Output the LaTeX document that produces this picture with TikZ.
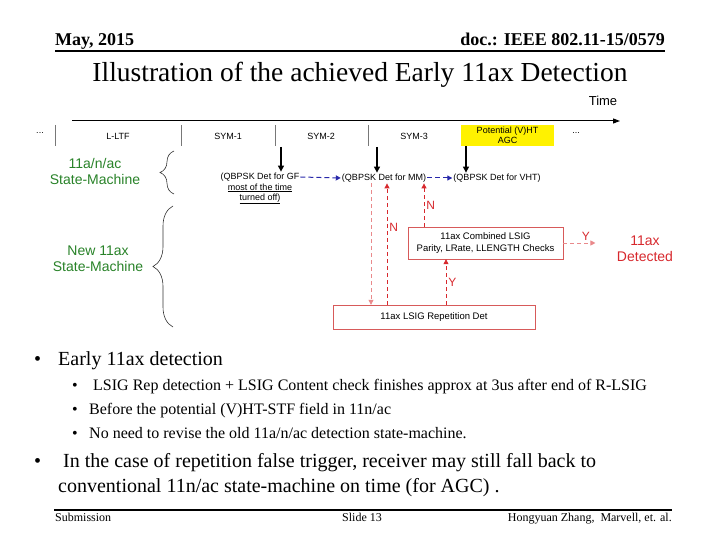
\documentclass[tikz,border=0pt]{standalone}
\usepackage{fontspec}
\setmainfont{Liberation Serif}
\newfontfamily\arialf{Liberation Sans}
\usetikzlibrary{arrows.meta,positioning,decorations.pathreplacing}
\definecolor{smgreen}{RGB}{40,130,40}
\definecolor{detred}{RGB}{215,40,45}
\definecolor{boxred}{RGB}{215,90,90}
\definecolor{dashblue}{RGB}{40,40,170}
\definecolor{celgray}{RGB}{120,120,120}
\begin{document}
\begin{tikzpicture}[x=1pt,y=-1pt,
  hdr/.style={font=\fontsize{18}{20}\selectfont\bfseries,inner sep=0pt},
  cell/.style={font=\arialf\fontsize{9}{10.5}\selectfont,align=center,inner sep=0pt},
  smlabel/.style={font=\arialf\fontsize{14}{16}\selectfont,text=smgreen,align=center},
  detq/.style={font=\arialf\fontsize{9}{11}\selectfont,inner sep=1pt},
  chkbox/.style={draw=boxred,fill=white,font=\arialf\fontsize{9.5}{11.5}\selectfont,align=center,inner sep=0pt},
  yn/.style={font=\arialf\fontsize{12}{14}\selectfont,text=detred,inner sep=2pt},
  down/.style={-{Triangle[length=6pt,width=6pt]},line width=1.2pt},
  hop/.style={-{Triangle[length=5pt,width=5pt]},dash pattern=on 5pt off 3pt,dashblue,line width=1pt},
  redup/.style={-{Triangle[length=5pt,width=5pt]},dash pattern=on 4pt off 3pt,detred,line width=0.8pt},
  brace/.style={decorate,decoration={brace,amplitude=#1},line width=0.6pt,black!80},
  bl/.style={anchor=base west,inner sep=0pt},
]
\useasboundingbox (0,0) rectangle (720,540);
% header
\node[hdr,anchor=base west] (date) at (55,46) {May, 2015};
\node[hdr,anchor=base east] (docno) at (665,46) {doc.: IEEE 802.11-15/0579};
\draw[line width=1.5pt] (55,51) -- (665,51);
\node[font=\fontsize{27.5}{30}\selectfont,anchor=base] (title) at (360,82) {Illustration of the achieved Early 11ax Detection};
% time axis and fields
\draw[-{Triangle[length=7pt,width=5pt]},line width=1pt] (72,121) -- (620,121);
\node[font=\arialf\fontsize{13}{15}\selectfont] (time) at (603,101) {Time};
\foreach \x in {55,181,275,368}
  \draw[celgray,line width=1pt] (\x,125) -- (\x,146);
\node[cell] (lltf) at (118,136) {L-LTF};
\node[cell] (sym1) at (228,136) {SYM-1};
\node[cell] (sym2) at (321,136) {SYM-2};
\node[cell] (sym3) at (414,136) {SYM-3};
\node[cell,fill=yellow,minimum width=93,minimum height=21] (agc) at (507.5,135.5) {Potential (V)HT\\AGC};
\node[cell] (dotsl) at (40,133) {...};
\node[cell] (dotsr) at (576,133) {...};
% 11a/n/ac detections
\node[detq] (gf) at (260,177) {(QBPSK Det for GF};
\node[detq,align=center,below=0pt of gf] (gfnote) {\underline{most of the time}\\[-1pt]\underline{turned off)}};
\node[detq] (mm) at (384,178) {(QBPSK Det for MM)};
\node[detq] (vht) at (497,178) {(QBPSK Det for VHT)};
\draw[down] (281,147) -- (gf.north -| 281,0);
\draw[down] (377,147) -- (mm.north -| 377,0);
\draw[down] (agc.south -| 466,0) -- (vht.north -| 466,0);
\draw[hop] (gf.east) -- (mm.west);
\draw[hop] (mm.east) -- (vht.west);
% 11ax checks
\node[chkbox,minimum width=155,minimum height=32] (comb) at (485.5,243) {11ax Combined LSIG\\Parity, LRate, LLENGTH Checks};
\node[chkbox,minimum width=202,minimum height=24] (rep) at (434,317) {11ax LSIG Repetition Det};
\node[font=\arialf\fontsize{14}{16}\selectfont,text=detred,align=center] (detd) at (645,249) {11ax\\Detected};
\draw[redup,detred!55] (mm.south -| 371,0) -- (rep.north -| 371,0);
\draw[redup] (rep.north -| 387,0) -- (mm.south -| 387,0) node[yn,pos=0.64,right] {N};
\draw[redup] (comb.north -| 424,0) -- (mm.south -| 424,0) node[yn,midway,right] {N};
\draw[redup] (rep.north -| 446,0) -- (comb.south -| 446,0) node[yn,midway,right] {Y};
\draw[redup,detred!55,shorten >=18pt] (comb.east) -- (detd.west |- comb.east) node[yn,pos=0.45,above] {Y};
% state machines
\node[smlabel] (oldsm) at (95,171) {11a/n/ac\\State-Machine};
\node[smlabel] (newsm) at (98,259) {New 11ax\\State-Machine};
\draw[brace=14] (174,194) -- (174,151);
\draw[brace=20] (173,327) -- (173,206);
% bullets
\node[bl,font=\fontsize{20}{22}\selectfont] (d1) at (34,365) {•};
\node[bl,font=\fontsize{20}{22}\selectfont] (b1) at (58,365) {Early 11ax detection};
\node[bl,font=\fontsize{16}{18}\selectfont] (d11) at (72,390) {•};
\node[bl,font=\fontsize{16}{18}\selectfont] (b11) at (89,390) {\ LSIG Rep detection + LSIG Content check finishes approx at 3us after end of R-LSIG};
\node[bl,font=\fontsize{16}{18}\selectfont] (d12) at (72,414) {•};
\node[bl,font=\fontsize{16}{18}\selectfont] (b12) at (89,414) {Before the potential (V)HT-STF field in 11n/ac};
\node[bl,font=\fontsize{16}{18}\selectfont] (d13) at (72,438) {•};
\node[bl,font=\fontsize{16}{18}\selectfont] (b13) at (89,438) {No need to revise the old 11a/n/ac detection state-machine.};
\node[bl,font=\fontsize{20}{22}\selectfont] (d2) at (34,467) {•};
\node[bl,font=\fontsize{20}{22}\selectfont] (b2) at (58,467) {\ In the case of repetition false trigger, receiver may still fall back to};
\node[bl,font=\fontsize{20}{22}\selectfont] (b2b) at (58,492) {conventional 11n/ac state-machine on time (for AGC) .};
% footer
\draw[line width=1.5pt] (54,510) -- (672,510);
\node[bl,font=\fontsize{12}{14}\selectfont] (subm) at (55,521) {Submission};
\node[anchor=base,inner sep=0pt,font=\fontsize{12}{14}\selectfont] (slide) at (362,521) {Slide 13};
\node[anchor=base east,inner sep=0pt,font=\fontsize{12}{14}\selectfont] (auth) at (672,521) {Hongyuan Zhang,\ \ Marvell, et. al.};
\end{tikzpicture}
\end{document}
